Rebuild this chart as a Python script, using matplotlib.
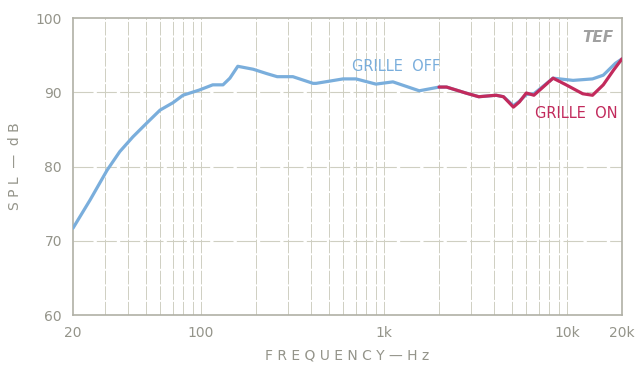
import matplotlib
matplotlib.use("Agg")
import matplotlib.pyplot as plt
from matplotlib.ticker import FixedLocator, NullFormatter

# grille off response (Hz, dB)
off_freq = [20, 24.8, 30.7, 36, 42.5, 50.8, 59.8, 70.4, 79.8, 98, 116, 132, 144, 159, 193, 230,
            261, 318, 410, 426, 598, 704, 904, 1120, 1560, 2000, 2200, 2800, 3300, 4100, 4500,
            5100, 5500, 6000, 6600, 8400, 10800, 13800, 15800, 18400, 20000]
off_db = [71.7, 75.5, 79.5, 82.0, 84.0, 85.9, 87.6, 88.6, 89.6, 90.3, 91.0, 91.0, 91.9, 93.5, 93.1,
          92.5, 92.1, 92.1, 91.2, 91.2, 91.8, 91.8, 91.1, 91.4, 90.2, 90.7, 90.7, 89.9, 89.4, 89.6,
          89.4, 88.2, 88.8, 89.7, 89.8, 91.9, 91.6, 91.8, 92.3, 93.9, 94.5]

# grille on response
on_freq = [2000, 2200, 2800, 3300, 4100, 4500, 5100, 5500, 6000, 6600, 8400, 9900, 12200, 13800,
           15800, 18000, 20000]
on_db = [90.7, 90.7, 89.9, 89.4, 89.6, 89.4, 88.0, 88.7, 89.9, 89.6, 91.9, 91.0, 89.8, 89.6,
         91.0, 93.0, 94.5]

x_ticks = [20, 100, 1000, 10000, 20000]
x_labels = ["20", "100", "1k", "10k", "20k"]
y_ticks = [60, 70, 80, 90, 100]

grid_freqs = [m * 10 ** e for e in range(1, 5) for m in range(1, 10)]
grid_freqs = [f for f in grid_freqs if 20 < f < 20000]

txt = "#94948a"
grid_c = "#cfcfc2"
blue = "#7aaedc"
red = "#c22a5c"

fig = plt.figure(figsize=(6.36, 3.70), dpi=100)
ax = fig.add_axes([0.1148, 0.1486, 0.8632, 0.8027])
ax.set_xscale("log")
ax.set_xlim(20, 20000)
ax.set_ylim(60, 100)

for f in grid_freqs:
    ax.axvline(f, color=grid_c, lw=0.7, ls=(0, (14, 2)), zorder=1)
for y in [70, 80, 90]:
    ax.axhline(y, color=grid_c, lw=0.8, ls=(0, (18, 3)), zorder=1)

ax.plot(off_freq, off_db, color=blue, lw=2.3, solid_capstyle="round", zorder=3)
ax.plot(on_freq, on_db, color=red, lw=2.3, solid_capstyle="round", zorder=4)

ax.xaxis.set_major_locator(FixedLocator(x_ticks))
ax.xaxis.set_minor_formatter(NullFormatter())
ax.set_xticks(x_ticks)
ax.set_xticklabels(x_labels)
ax.set_yticks(y_ticks)
ax.tick_params(axis="both", which="both", length=0, colors=txt, labelsize=10, pad=8)

for s in ax.spines.values():
    s.set_color("#b0b0a6")
    s.set_linewidth(1.2)

ax.set_xlabel("F R E Q U E N C Y — H z", color=txt, fontsize=10, labelpad=6)
ax.set_ylabel("S P L  —  d B", color=txt, fontsize=10, labelpad=10)

ax.text(1160, 93.5, "GRILLE  OFF", color=blue, fontsize=10.5, ha="center", va="center", zorder=5)
ax.text(11300, 87.2, "GRILLE  ON", color=red, fontsize=10.5, ha="center", va="center", zorder=5)
ax.text(14700, 97.4, "TEF", color="#a0a0a0", fontsize=11, ha="center", va="center",
        fontweight="bold", style="italic", zorder=5)

fig.savefig("out.png", dpi=100)
